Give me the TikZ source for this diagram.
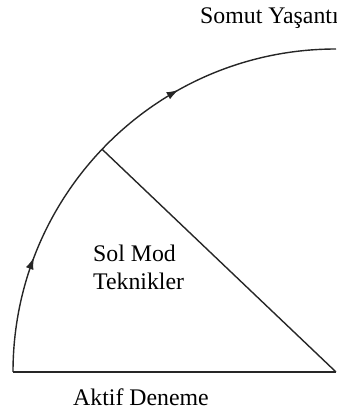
\documentclass[tikz,border=0pt]{standalone}
\usepackage{fontspec}
\setmainfont{Liberation Serif}
\usetikzlibrary{arrows.meta,decorations.markings,calc}
\begin{document}
\begin{tikzpicture}[x=1pt,y=1pt,
  edge/.style={line width=1.4pt,draw=black!85},
  lbl/.style={inner sep=0pt,font=\fontsize{23.8}{28}\selectfont},
  arrowarc/.style={edge,postaction={decorate},decoration={markings,
    mark=at position 0.231 with {\arrow{Latex[length=12pt,width=8pt]}},
    mark=at position 0.676 with {\arrow{Latex[length=12pt,width=8pt]}}}}]
\useasboundingbox (0,0) rectangle (337,410);
\coordinate (C) at (336,38);
\coordinate (A) at (13,38);
\coordinate (D) at ($(C)+(136.4:323)$);
\draw[arrowarc] (A) arc[start angle=180,end angle=90,radius=323];
\draw[edge] (A) -- (C);
\draw[edge] (C) -- (D);
\node[lbl,anchor=base west] (som) at (200,386) {Somut Yaşantı};
\node[lbl,anchor=base west,align=left] (sol) at (93,120) {Sol Mod\\[0pt]Teknikler};
\node[lbl,anchor=base west] (akt) at (73,5) {Aktif Deneme};
\end{tikzpicture}
\end{document}
